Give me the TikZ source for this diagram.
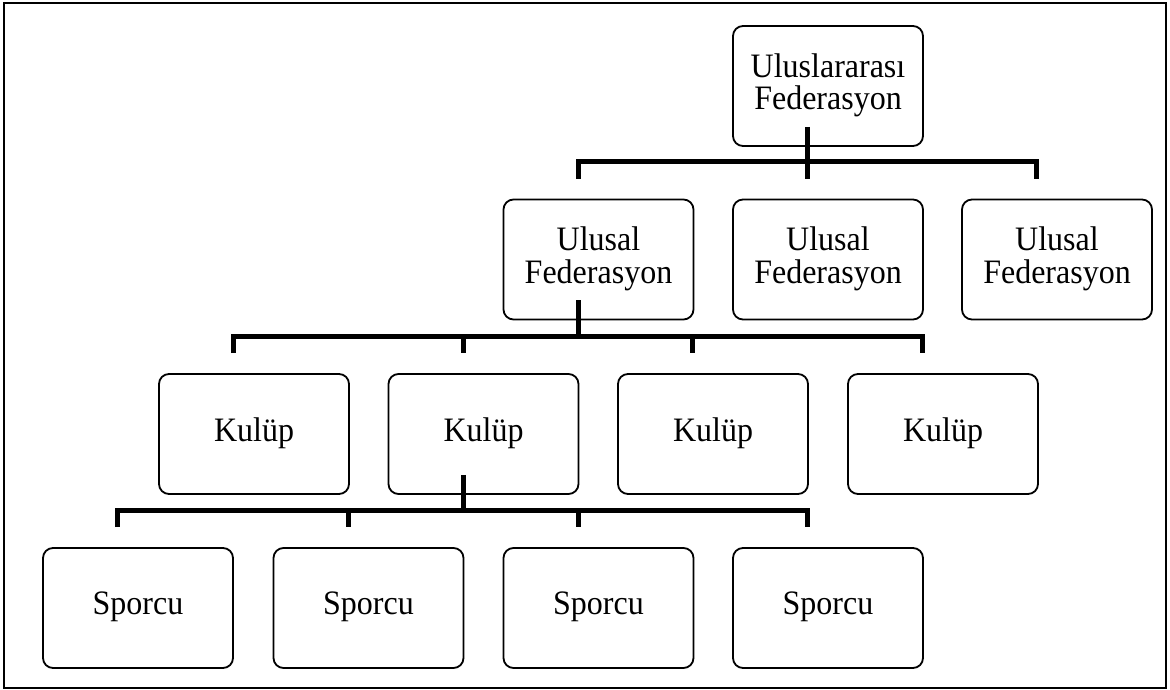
\documentclass[tikz,border=0pt]{standalone}
\usepackage{graphicx}
\usepackage{fontspec}
\setmainfont{Liberation Serif}
% labels are set slightly taller than the nominal font
\newcommand{\boxlabel}[1]{\scalebox{1}[1.07]{\begin{tabular}{@{}c@{}}#1\end{tabular}}}
\begin{document}
\begin{tikzpicture}[x=1pt,y=-1pt,
  orgbox/.style={draw, line width=1.8pt, rounded corners=10pt,
    minimum width=190pt, minimum height=120pt, align=center,
    inner sep=0pt, font=\fontsize{32}{28}\selectfont},
  conn/.style={line width=5pt, line join=miter, line cap=butt},
  frame/.style={line width=2pt}]
\useasboundingbox (0,0) rectangle (1170,690);
\draw[frame] (4,3) rectangle (1166,688);

% top level
\node[orgbox] (top) at (828,86) {\boxlabel{Uluslararas\i\\Federasyon}};

% national federations
\node[orgbox] (n1) at (598.5,259.5) {\boxlabel{Ulusal\\Federasyon}};
\node[orgbox] (n2) at (828,259.5) {\boxlabel{Ulusal\\Federasyon}};
\node[orgbox] (n3) at (1057,259.5) {\boxlabel{Ulusal\\Federasyon}};

% clubs
\node[orgbox] (k1) at (254,434) {\boxlabel{Kulüp}};
\node[orgbox] (k2) at (483.5,434) {\boxlabel{Kulüp}};
\node[orgbox] (k3) at (713,434) {\boxlabel{Kulüp}};
\node[orgbox] (k4) at (943,434) {\boxlabel{Kulüp}};

% athletes
\node[orgbox] (s1) at (138,608) {\boxlabel{Sporcu}};
\node[orgbox] (s2) at (368.5,608) {\boxlabel{Sporcu}};
\node[orgbox] (s3) at (598.5,608) {\boxlabel{Sporcu}};
\node[orgbox] (s4) at (828,608) {\boxlabel{Sporcu}};

% connector anchor points: tick ends and bar points above each child
\foreach \c in {n1,n2,n3,k1,k2,k3,k4,s1,s2,s3,s4}{
  \coordinate (\c-t) at ([xshift=-20.5pt,yshift=20pt]\c.north);
  \coordinate (\c-b) at ([xshift=-20.5pt,yshift=37pt]\c.north);
}
\foreach \p in {top,n1,k2}{
  \coordinate (\p-s) at ([xshift=-20.5pt,yshift=20pt]\p.south);
}

% international -> national
\draw[conn] (n1-t) -- (n1-b) -- (n3-b) -- (n3-t);
\draw[conn] (top-s) -- (top-s |- n2-t);

% national -> clubs
\draw[conn] (k1-t) -- (k1-b) -- (k4-b) -- (k4-t);
\draw[conn] (k2-b) -- (k2-t);
\draw[conn] (k3-b) -- (k3-t);
\draw[conn] (n1-s) -- (n1-s |- k1-b);

% club -> athletes
\draw[conn] (s1-t) -- (s1-b) -- (s4-b) -- (s4-t);
\draw[conn] (s2-b) -- (s2-t);
\draw[conn] (s3-b) -- (s3-t);
\draw[conn] (k2-s) -- (k2-s |- s1-b);
\end{tikzpicture}
\end{document}
